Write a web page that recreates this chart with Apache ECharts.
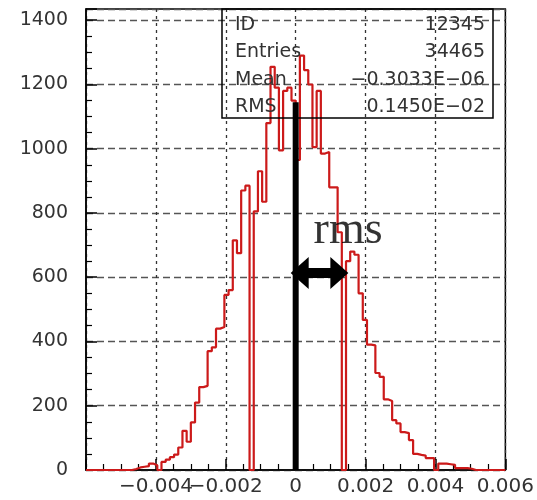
<!DOCTYPE html>
<html><head><meta charset="utf-8">
<script src="https://cdn.jsdelivr.net/npm/echarts@6/dist/echarts.min.js"></script>
<style>html,body{margin:0;padding:0;background:#fff}#c{width:537px;height:500px}</style>
</head><body><div id="c"></div>
<script>
// ---- data ----
const binStart = -0.006;
const binWidth = 0.00012;
const counts = [
  0,0,0,0,0,0,0,0,0,0,0,
  3,8,10,12,20,15,0,25,32,40,
  48,70,122,88,148,210,258,262,370,382,
  440,445,545,560,715,675,870,885,0,805,
  930,835,1080,1255,1190,995,1180,1190,1150,965,
  1290,1245,1200,1005,1180,985,990,880,880,740,
  0,650,680,670,550,467,390,388,302,290,
  220,215,155,145,118,115,93,50,47,45,
  37,37,0,20,20,18,16,6,6,6,
  4,0,0,0,0,0,0,0,0
];
const xTicks = [-0.004, -0.002, 0, 0.002, 0.004, 0.006];
const yTicks = [0, 200, 400, 600, 800, 1000, 1200, 1400];
const meanValue = 0;
const meanLineTop = 1145;
const rmsValue = 0.00145;
const arrowLevel = 613;
const rmsText = 'rms';
const rmsTextPos = [0.0015, 745];
const statsLabels = ['ID', 'Entries', 'Mean', 'RMS'];
const statsValues = ['12345', '34465', '\u22120.3033E\u221206', '0.1450E\u221202'];

// ---- build ----
const histData = counts.map((c, i) => [binStart + i * binWidth, c]);
histData.push([binStart + counts.length * binWidth, counts[counts.length - 1]]);

function near(v, arr, eps) { return arr.some(t => Math.abs(t - v) < eps); }
function fmtX(v) {
  if (!near(v, xTicks, 1e-7)) return '';
  if (Math.abs(v) < 1e-9) return '0';
  return (v < 0 ? '\u2212' : '') + Math.abs(v).toFixed(3);
}
function fmtY(v) {
  if (!near(v, yTicks, 0.5)) return '';
  return String(Math.round(v));
}

const chart = echarts.init(document.getElementById('c'), null, {renderer: 'canvas'});
const axisFont = 'DejaVu Sans';

const statsGraphic = [{
  type: 'rect', z: 20,
  shape: {x: 222, y: 9, width: 271, height: 109},
  style: {fill: 'none', stroke: '#000', lineWidth: 1.5}
}];
statsLabels.forEach((t, i) => {
  statsGraphic.push({type: 'text', z: 20, x: 235, y: 25 + i * 27.3,
    style: {text: t, fill: '#333', font: '19px "DejaVu Sans"', textVerticalAlign: 'middle', textAlign: 'left'}});
  statsGraphic.push({type: 'text', z: 20, x: 485, y: 25 + i * 27.3,
    style: {text: statsValues[i], fill: '#333', font: '19px "DejaVu Sans"', textVerticalAlign: 'middle', textAlign: 'right'}});
});

function renderArrow(params, api) {
  const a = api.coord([api.value(0), api.value(2)]);
  const b = api.coord([api.value(1), api.value(2)]);
  const y = a[1];
  const x0 = a[0] - 5, x1 = b[0] + 2;
  const hl = 18, hh = 16, sh = 5;
  const pts = [
    [x0, y], [x0 + hl, y - hh], [x0 + hl, y - sh], [x1 - hl, y - sh], [x1 - hl, y - hh],
    [x1, y], [x1 - hl, y + hh], [x1 - hl, y + sh], [x0 + hl, y + sh], [x0 + hl, y + hh]
  ];
  return {type: 'polygon', shape: {points: pts}, style: {fill: '#000'}};
}

chart.setOption({
  animation: false,
  backgroundColor: '#fff',
  grid: {left: 86, right: 31, top: 9, bottom: 30, show: true, borderColor: '#000', borderWidth: 1.5},
  xAxis: {
    type: 'value', min: -0.006, max: 0.006, interval: 0.002,
    axisLine: {show: true, onZero: false, lineStyle: {color: '#000', width: 1.5}},
    axisTick: {show: true, inside: true, length: 11, lineStyle: {color: '#000', width: 1.5}},
    minorTick: {show: true, splitNumber: 4, length: 6, lineStyle: {color: '#000', width: 1.2}},
    splitLine: {show: true, lineStyle: {color: '#333', width: 1.3, type: [3, 4]}},
    axisLabel: {formatter: fmtX, color: '#333', fontFamily: axisFont, fontSize: 20, margin: 7,
      showMinLabel: false, showMaxLabel: true, hideOverlap: false, interval: 0}
  },
  yAxis: {
    type: 'value', min: 0, max: 1435, interval: 200,
    axisLine: {show: true, onZero: false, lineStyle: {color: '#000', width: 1.5}},
    axisTick: {show: true, inside: true, length: 11, lineStyle: {color: '#000', width: 1.5}},
    minorTick: {show: true, splitNumber: 4, length: 6, lineStyle: {color: '#000', width: 1.2}},
    splitLine: {show: true, lineStyle: {color: '#555', width: 1.3, type: [7, 4]}},
    axisLabel: {formatter: fmtY, color: '#333', fontFamily: axisFont, fontSize: 19, margin: 18,
      showMaxLabel: false, hideOverlap: false}
  },
  series: [
    {
      name: 'hist', type: 'line', step: 'end', data: histData, symbol: 'none', z: 3,
      lineStyle: {color: '#cc1a1a', width: 2.2}
    },
    {
      name: 'mean', type: 'line', data: [[meanValue, 0], [meanValue, meanLineTop]], symbol: 'none', z: 5,
      lineStyle: {color: '#000', width: 6, cap: 'butt'}
    },
    {
      name: 'rmsArrow', type: 'custom', z: 6,
      encode: {x: [0, 1], y: 2},
      data: [[meanValue, rmsValue, arrowLevel]],
      renderItem: renderArrow
    },
    {
      name: 'rmsText', type: 'scatter', data: [rmsTextPos], symbolSize: 1, z: 7,
      itemStyle: {color: 'rgba(0,0,0,0)'},
      label: {show: true, position: 'inside', formatter: rmsText, color: '#000',
        fontFamily: 'Liberation Serif', fontSize: 46}
    }
  ],
  graphic: statsGraphic
});
</script></body></html>
